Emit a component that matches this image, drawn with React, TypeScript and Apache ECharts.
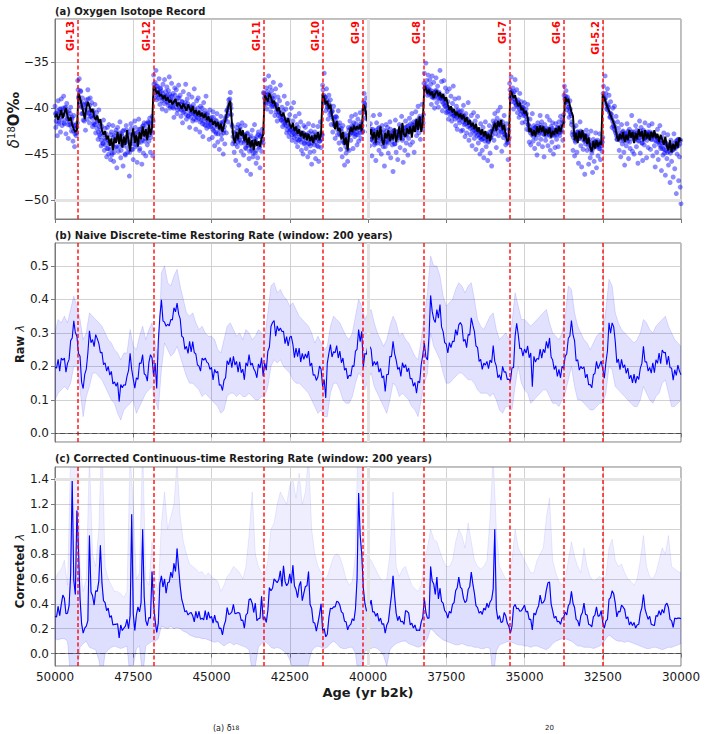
import React, { useEffect, useRef } from "react";
import * as echarts from "echarts";

const START_AGE = 50000;
const LINE_STEP = 50;
const BAND_STEP = 100;
const SCATTER_STEP = 25;
const SCATTER_B_START = 49987.5;
const X_MIN = 30000;
const X_MAX = 50000;
const X_INTERVAL = 2500;

const GI_AGES = [49280, 46860, 43340, 41460, 40160, 38220, 35480, 33740, 32500];
const GI_LABELS = ["GI-13", "GI-12", "GI-11", "GI-10", "GI-9", "GI-8", "GI-7", "GI-6", "GI-5.2"];

// (a) d18O samples, every 25 yr from 50000 to 30000
const isoScatter = [
  -39.8, -42.1, -40.6, -43.0, -39.2, -41.5, -40.1, -42.6, -39.0, -41.9, -40.4, -38.7, -41.7, -40.0, -42.8, -39.5, -41.2, -43.3, -40.3, -41.8, -39.9, -42.5, -41.0, -43.6, -40.8, -44.2, -41.9, -43.0, -42.1, -37.0, -38.9, -36.8, -39.7, -38.2, -40.6, -38.9, -41.3, -39.6, -40.2, -42.4,
  -39.1, -41.2, -38.0, -40.5, -41.6, -38.9, -40.9, -39.4, -42.0, -40.3, -41.8, -39.6, -42.7, -40.5, -41.3, -43.4, -40.2, -42.9, -41.7, -44.1, -42.0, -43.8, -41.3, -44.6, -42.2, -43.5, -45.3, -42.1, -44.4, -41.8, -43.9, -45.6, -42.6, -44.9, -41.9, -45.8, -43.0, -44.3, -42.4, -46.5,
  -42.1, -44.7, -43.2, -41.5, -45.4, -42.8, -44.0, -46.3, -42.4, -43.8, -45.1, -41.9, -43.5, -44.8, -42.6, -47.4, -43.9, -41.7, -44.5, -42.9, -45.6, -43.1, -41.4, -44.2, -42.7, -45.9, -43.4, -41.2, -44.6, -42.3, -43.7, -46.1, -42.0, -44.9, -41.6, -43.3, -45.2, -42.8, -44.0, -41.5,
  -43.6, -41.1, -44.8, -42.5, -40.9, -45.2, -36.4, -38.9, -37.2, -35.9, -39.1, -37.6, -38.5, -36.8, -39.6, -37.9, -38.2, -40.1, -37.4, -39.0, -36.9, -38.7, -40.3, -37.7, -39.4, -38.1, -36.6, -40.0, -38.8, -37.3, -39.9, -38.4, -41.0, -37.8, -39.5, -38.0, -40.6, -38.9, -37.5, -39.8,
  -38.6, -40.9, -39.3, -41.6, -38.2, -40.4, -39.7, -37.4, -41.2, -39.0, -40.8, -38.5, -42.1, -39.9, -40.6, -38.8, -41.4, -39.6, -37.9, -40.7, -42.3, -39.2, -41.0, -38.9, -40.5, -42.6, -39.8, -41.3, -40.0, -43.1, -39.4, -41.8, -40.3, -38.7, -42.2, -40.6, -41.5, -43.4, -40.2, -42.0,
  -41.0, -43.2, -40.4, -42.5, -44.1, -41.3, -42.8, -40.6, -43.7, -41.9, -44.5, -42.2, -40.9, -43.4, -41.6, -45.0, -42.4, -43.9, -41.1, -42.7, -40.2, -41.5, -39.1, -40.6, -38.3, -40.0, -41.8, -43.9, -42.6, -44.8, -43.3, -45.7, -42.1, -44.2, -41.8, -46.2, -43.5, -42.0, -44.7, -41.6,
  -42.8, -45.1, -43.6, -41.9, -44.4, -46.8, -42.7, -44.0, -45.5, -43.2, -47.2, -44.6, -42.4, -45.3, -43.7, -41.8, -44.9, -46.0, -43.1, -45.4, -42.6, -44.3, -46.5, -43.0, -44.7, -42.3, -43.8, -38.4, -36.9, -39.6, -37.8, -40.1, -38.5, -36.5, -39.3, -37.7, -40.4, -38.1, -39.8, -37.2,
  -38.6, -40.8, -37.9, -39.6, -41.4, -38.8, -40.5, -39.2, -37.5, -41.3, -39.9, -42.0, -40.3, -38.7, -41.6, -40.1, -42.7, -39.5, -41.2, -43.1, -40.7, -42.4, -40.0, -43.5, -41.4, -39.4, -42.8, -40.9, -43.7, -41.8, -44.2, -42.1, -40.6, -43.4, -41.5, -44.6, -42.7, -45.0, -41.9, -43.8,
  -42.1, -44.4, -43.0, -45.3, -41.7, -43.9, -44.8, -42.5, -46.1, -43.4, -41.9, -44.7, -42.6, -45.5, -43.2, -44.1, -42.0, -45.8, -43.6, -41.5, -44.3, -42.9, -37.5, -39.4, -36.2, -38.8, -40.3, -37.9, -39.9, -41.2, -38.6, -40.7, -39.1, -41.8, -40.4, -42.6, -39.8, -41.9, -43.3, -40.9,
  -41.0, -42.9, -40.3, -43.8, -41.6, -44.5, -42.2, -45.3, -41.9, -43.7, -46.2, -42.8, -44.9, -43.3, -45.8, -42.1, -44.6, -41.4, -43.5, -40.9, -42.7, -44.4, -41.6, -43.1, -40.7, -42.9, -44.0, -41.2, -43.6, -42.0, -40.5, -43.3, -41.5, -42.6, -40.2, -38.4, -39.5, -41.1, -38.9, -40.6,
  -40.9, -42.6, -44.1, -41.7, -43.4, -45.2, -42.3, -40.8, -44.0, -42.9, -45.7, -41.6, -43.8, -42.2, -44.6, -40.7, -43.1, -45.0, -41.9, -43.6, -42.4, -46.3, -44.2, -41.8, -43.7, -42.1, -44.9, -43.3, -41.5, -45.4, -42.7, -44.0, -46.9, -42.5, -43.9, -41.3, -44.8, -42.6, -45.6, -43.0,
  -41.8, -44.3, -42.7, -40.9, -43.5, -45.9, -42.2, -44.6, -41.4, -43.8, -42.0, -45.1, -43.3, -41.1, -44.0, -42.5, -40.6, -43.7, -41.9, -44.8, -42.3, -40.4, -43.0, -41.6, -39.8, -42.7, -40.9, -43.4, -41.2, -39.6, -42.3, -40.7, -36.2, -37.8, -35.1, -37.0, -38.6, -36.4, -38.1, -36.9,
  -37.4, -39.6, -36.5, -38.8, -37.2, -40.0, -38.1, -36.7, -39.4, -37.6, -39.9, -38.3, -35.9, -38.9, -37.1, -40.3, -38.6, -37.0, -39.7, -37.8, -40.5, -38.2, -39.3, -41.2, -37.9, -40.1, -38.7, -41.4, -39.5, -37.6, -40.8, -39.0, -41.9, -39.8, -42.3, -40.2, -38.9, -41.6, -40.4, -42.5,
  -40.3, -42.4, -39.7, -41.8, -43.1, -40.6, -42.7, -41.2, -39.4, -43.5, -41.6, -42.9, -40.8, -44.1, -42.0, -40.5, -43.3, -41.4, -44.5, -42.3, -40.9, -43.8, -42.6, -45.0, -41.7, -43.4, -44.6, -42.1, -45.4, -43.0, -41.5, -44.2, -42.8, -45.7, -43.6, -41.9, -44.9, -43.2, -46.3, -42.5,
  -41.4, -43.5, -40.6, -42.8, -44.3, -41.1, -40.3, -43.0, -41.8, -39.9, -42.6, -44.7, -41.5, -43.2, -40.8, -42.9, -44.0, -41.7, -43.8, -45.6, -42.4, -37.3, -38.9, -36.6, -39.3, -37.8, -40.1, -38.2, -36.9, -39.6, -38.0, -40.5, -39.1, -41.0, -38.4, -40.7, -39.3, -41.6, -39.9, -40.8,
  -39.4, -41.5, -40.1, -42.3, -39.6, -41.8, -43.7, -41.2, -44.0, -42.5, -40.6, -43.6, -41.9, -44.4, -42.1, -43.3, -45.1, -41.6, -43.9, -42.7, -40.8, -43.4, -41.5, -44.2, -42.2, -45.3, -41.8, -43.5, -42.4, -40.9, -44.1, -42.8, -41.3, -44.6, -42.0, -43.7, -41.6, -45.0, -42.9, -44.3,
  -41.7, -43.4, -42.1, -44.2, -41.5, -43.0, -40.9, -42.6, -41.3, -43.5, -40.7, -37.6, -39.4, -38.1, -40.2, -38.8, -39.9, -41.0, -39.2, -40.6, -41.8, -42.9, -44.6, -42.1, -45.2, -43.7, -41.9, -44.8, -42.6, -46.0, -43.3, -41.5, -44.1, -46.4, -42.8, -44.5, -43.0, -47.2, -43.9, -42.4,
  -44.6, -42.9, -46.1, -43.7, -45.4, -42.5, -44.9, -47.0, -43.4, -45.8, -44.1, -42.7, -46.5, -43.9, -45.2, -44.4, -42.8, -45.6, -43.6, -44.7, -43.2, -37.6, -39.0, -36.5, -38.4, -40.1, -37.9, -39.7, -38.6, -41.0, -39.3, -40.7, -42.1, -40.0, -41.6, -39.8, -42.5, -40.9, -43.4, -41.5,
  -42.2, -44.6, -43.1, -45.3, -41.8, -43.9, -42.5, -44.8, -46.2, -42.9, -44.1, -41.7, -43.6, -45.5, -42.3, -44.4, -43.0, -40.8, -44.7, -42.6, -45.0, -43.3, -41.9, -44.2, -42.7, -46.0, -43.5, -41.4, -44.9, -42.1, -43.8, -45.7, -42.4, -44.0, -41.6, -43.2, -45.4, -42.8, -44.3, -41.9,
  -42.6, -44.5, -43.4, -41.7, -45.2, -42.9, -44.1, -46.4, -43.0, -44.8, -42.3, -45.6, -43.7, -41.9, -44.4, -46.8, -43.2, -45.1, -42.7, -44.9, -47.3, -43.8, -45.5, -42.9, -46.2, -44.0, -48.1, -43.5, -45.8, -44.6, -47.5, -42.8, -46.6, -44.2, -49.3, -45.0, -43.4, -47.9, -45.3, -48.6, -50.4,
];

// (a) second set of d18O samples, every 25 yr from 49987.5
const isoScatterB = [
  -40.6, -41.4, -40.9, -40.3, -41.7, -40.5, -41.0, -40.1, -41.3, -40.8, -40.0, -41.6, -40.7, -39.9, -41.2, -40.4, -41.8, -40.9, -41.5, -40.6, -42.0, -41.2, -41.7, -42.5, -41.9, -42.8, -42.2, -42.7, -41.6, -38.0, -38.7, -39.3, -38.1, -39.9, -39.4, -40.6, -40.0, -41.4, -40.7, -39.6,
  -39.5, -40.2, -39.0, -40.6, -39.7, -40.9, -40.3, -41.1, -40.5, -41.6, -40.9, -41.8, -41.0, -42.2, -41.5, -42.6, -42.0, -43.1, -42.4, -43.5, -42.7, -43.9, -42.9, -43.3, -44.0, -42.8, -44.4, -43.5, -45.0, -43.7, -44.5, -42.9, -45.1, -44.0, -43.2, -44.8, -43.6, -42.7, -44.2, -43.4,
  -43.1, -44.2, -42.7, -43.8, -44.6, -43.0, -42.5, -44.1, -43.5, -45.0, -43.2, -42.4, -44.3, -43.7, -42.9, -44.8, -43.4, -42.2, -43.9, -44.5, -42.8, -43.6, -42.1, -44.0, -43.3, -42.6, -43.8, -42.3, -44.4, -43.0, -42.7, -43.5, -41.9, -42.8, -43.6, -42.2, -41.7, -43.1, -42.5, -41.6,
  -42.9, -41.6, -43.2, -42.0, -42.7, -41.4, -37.4, -37.9, -38.3, -37.6, -38.6, -38.0, -38.9, -38.3, -37.8, -38.8, -39.2, -38.4, -38.9, -39.5, -38.7, -38.2, -39.3, -38.6, -39.7, -39.0, -38.5, -39.8, -39.2, -38.7, -39.5, -40.0, -39.1, -38.6, -39.9, -39.3, -40.2, -39.6, -38.9, -40.1,
  -39.6, -40.2, -39.3, -40.5, -39.8, -40.1, -39.4, -40.7, -40.0, -39.5, -40.9, -40.3, -39.8, -41.0, -40.4, -39.9, -40.6, -41.2, -40.1, -40.8, -41.3, -40.5, -40.0, -41.1, -40.7, -41.5, -40.4, -41.0, -41.7, -40.8, -41.4, -40.6, -41.9, -41.2, -40.7, -41.6, -42.0, -41.1, -41.8, -41.3,
  -41.6, -42.3, -41.0, -42.1, -41.7, -42.6, -41.4, -42.0, -42.8, -41.8, -42.4, -41.6, -42.9, -42.2, -41.5, -42.7, -42.0, -41.3, -40.9, -40.3, -40.8, -39.9, -39.5, -39.0, -39.6, -40.7, -42.0, -43.1, -43.6, -42.8, -43.9, -43.3, -42.5, -43.7, -42.9, -43.4, -42.3, -43.8, -42.7, -43.1,
  -42.9, -43.8, -43.2, -44.3, -43.5, -42.8, -44.1, -43.6, -44.7, -43.9, -43.0, -44.4, -43.7, -44.9, -43.3, -44.0, -43.4, -44.6, -43.8, -42.9, -43.9, -44.2, -43.1, -43.7, -42.8, -43.4, -38.3, -38.9, -39.4, -38.6, -39.1, -38.2, -38.8, -39.5, -38.5, -39.2, -39.8, -38.9, -39.6, -39.0,
  -39.5, -39.9, -40.4, -39.7, -40.2, -40.8, -40.4, -41.0, -40.6, -41.3, -40.9, -41.5, -41.1, -41.8, -41.3, -41.9, -42.3, -41.6, -42.1, -42.6, -41.9, -42.4, -42.9, -42.2, -42.7, -43.2, -42.5, -43.0, -42.3, -43.4, -42.8, -43.5, -42.6, -43.1, -43.7, -42.9, -43.4, -42.7, -43.9, -43.2,
  -42.9, -43.6, -43.0, -43.9, -42.7, -43.4, -44.1, -43.2, -43.8, -42.8, -43.5, -44.0, -43.1, -43.7, -42.9, -43.3, -44.2, -43.0, -43.6, -42.7, -43.4, -42.9, -38.0, -38.6, -39.2, -38.8, -39.5, -39.1, -39.9, -39.4, -40.2, -39.7, -40.5, -40.9, -40.3, -41.2, -41.7, -41.0, -42.0, -41.5,
  -41.8, -42.4, -41.9, -42.8, -42.3, -43.0, -42.6, -43.5, -42.9, -43.8, -43.3, -44.2, -43.6, -44.5, -43.0, -42.4, -42.9, -42.2, -42.7, -41.9, -42.5, -42.0, -42.8, -42.3, -41.7, -42.6, -42.1, -42.9, -42.4, -41.8, -42.7, -42.2, -41.9, -42.5, -39.3, -39.9, -40.4, -39.7, -40.6, -41.2,
  -41.9, -42.6, -43.1, -42.3, -43.4, -42.7, -43.6, -42.5, -43.0, -43.8, -42.4, -43.2, -42.8, -43.5, -42.1, -43.3, -43.9, -42.6, -43.1, -44.2, -43.4, -42.9, -43.7, -42.5, -43.2, -43.8, -42.7, -43.4, -42.3, -43.0, -43.6, -42.8, -43.3, -42.4, -43.9, -43.1, -42.6, -43.5, -42.9, -43.2,
  -42.4, -43.1, -42.0, -42.7, -43.3, -42.5, -42.9, -42.1, -43.0, -42.4, -42.8, -41.9, -42.6, -42.2, -41.7, -42.5, -41.8, -42.3, -41.5, -42.1, -41.6, -42.4, -41.3, -42.0, -41.7, -41.2, -42.1, -41.4, -41.8, -41.1, -41.6, -37.3, -37.8, -37.5, -38.1, -37.7, -38.3, -37.9, -38.5, -38.0,
  -38.4, -38.8, -38.2, -38.6, -38.9, -38.3, -38.7, -38.1, -38.5, -38.9, -38.4, -39.0, -38.6, -38.9, -39.3, -38.8, -39.5, -39.1, -39.8, -39.4, -40.0, -40.4, -39.9, -40.3, -40.7, -40.1, -40.6, -40.2, -40.9, -40.5, -40.8, -41.2, -40.6, -41.0, -40.4, -40.9, -41.3, -40.7, -41.1, -40.8,
  -41.0, -41.5, -40.8, -41.3, -41.7, -41.1, -41.6, -42.0, -41.4, -41.9, -42.2, -41.6, -42.1, -42.5, -41.9, -42.4, -42.8, -42.2, -42.6, -43.0, -42.4, -42.9, -43.2, -42.6, -43.1, -43.4, -42.8, -43.3, -42.7, -43.6, -43.0, -43.4, -42.9, -43.7, -43.1, -42.6, -43.2, -42.5, -42.9, -42.3,
  -42.0, -41.7, -42.3, -41.5, -42.1, -41.8, -42.5, -41.6, -42.2, -41.4, -42.0, -42.6, -41.9, -42.4, -42.8, -42.2, -43.0, -43.5, -42.9, -43.7, -43.2, -38.0, -38.5, -38.2, -38.8, -38.4, -39.0, -39.4, -39.1, -39.7, -39.3, -39.9, -39.5, -40.1, -39.7, -40.3, -39.9, -40.4, -40.0, -40.6,
  -40.4, -40.9, -40.6, -41.2, -41.8, -42.4, -42.0, -42.7, -42.3, -42.9, -42.5, -43.1, -42.2, -42.8, -42.4, -42.0, -42.6, -42.2, -42.9, -42.4, -41.9, -42.5, -42.1, -42.8, -42.3, -42.9, -42.5, -43.0, -42.2, -42.7, -42.3, -42.9, -42.4, -43.1, -42.6, -42.2, -42.8, -42.4, -43.0, -42.5,
  -42.4, -42.9, -42.2, -42.7, -42.1, -42.6, -42.0, -42.4, -41.8, -41.5, -38.6, -39.0, -38.7, -39.3, -39.0, -39.5, -39.9, -40.4, -40.1, -40.8, -41.5, -42.6, -43.2, -42.8, -43.5, -42.9, -43.4, -42.6, -43.1, -42.7, -43.3, -42.5, -43.0, -42.6, -43.4, -42.9, -43.6, -43.0, -43.5, -43.1,
  -43.6, -44.1, -43.4, -44.0, -44.5, -44.1, -44.6, -43.8, -44.3, -43.7, -44.2, -43.6, -44.0, -43.5, -44.2, -43.8, -44.4, -43.9, -44.1, -43.7, -38.4, -38.8, -39.1, -38.9, -39.5, -39.8, -40.2, -39.9, -40.5, -40.9, -40.6, -41.1, -41.4, -41.9, -42.3, -42.0, -42.7, -43.0, -43.4, -43.1,
  -43.2, -42.7, -43.5, -42.9, -43.3, -42.6, -43.1, -43.6, -42.8, -43.4, -42.7, -43.2, -42.5, -43.0, -43.7, -42.9, -43.3, -42.6, -43.1, -42.8, -43.5, -42.9, -43.3, -42.4, -43.0, -43.6, -42.7, -43.2, -42.5, -43.1, -43.8, -42.9, -43.4, -42.6, -43.2, -42.8, -43.5, -42.6, -43.1, -42.8,
  -43.2, -42.8, -43.4, -42.7, -43.1, -42.9, -43.5, -43.0, -43.6, -43.2, -43.7, -43.3, -44.0, -43.5, -44.2, -43.8, -44.4, -43.7, -44.5, -44.0, -44.6, -43.9, -44.8, -44.2, -44.7, -44.1, -44.9, -44.3, -44.6, -44.0, -44.5, -43.8, -44.4, -43.6, -44.2, -43.5, -44.1, -43.4, -43.9, -43.5,
];

// (a) smoothed d18O, every 50 yr
const isoLine = [
  -41.0, -40.6, -41.3, -40.8, -40.2, -41.1, -40.5, -40.0, -40.9, -41.4, -41.0, -41.8, -42.3, -42.6, -42.4, -38.4, -38.9, -39.6, -40.4, -41.2,
  -40.0, -39.3, -39.8, -40.4, -40.1, -40.9, -41.3, -40.8, -41.6, -41.2, -42.4, -42.9, -42.5, -43.4, -43.0, -44.1, -43.3, -44.6, -43.2, -43.8,
  -42.6, -43.9, -42.8, -44.3, -43.1, -44.0, -42.4, -43.6, -44.7, -43.0, -42.2, -43.8, -42.9, -44.2, -42.6, -43.4, -42.0, -43.1, -42.3, -43.5,
  -41.8, -42.9, -42.1, -37.6, -37.9, -38.4, -38.1, -38.7, -38.5, -39.0, -38.6, -39.2, -38.8, -39.4, -39.1, -39.6, -39.3, -39.0, -39.8, -39.4,
  -39.7, -40.1, -39.5, -39.9, -40.3, -39.6, -40.0, -40.4, -39.8, -40.6, -40.2, -40.8, -40.3, -40.9, -40.5, -41.1, -40.6, -41.3, -40.9, -41.5,
  -41.2, -41.8, -41.4, -42.0, -41.5, -42.3, -41.7, -42.6, -41.9, -41.2, -40.4, -39.6, -39.2, -41.5, -43.2, -43.8, -42.6, -43.4, -42.2, -43.0,
  -42.4, -43.6, -42.8, -44.0, -43.2, -44.3, -43.5, -44.6, -43.4, -44.1, -43.6, -44.2, -43.3, -42.9, -38.6, -38.9, -39.3, -38.4, -38.8, -39.5,
  -39.2, -39.8, -40.3, -39.9, -40.6, -40.9, -40.5, -41.2, -41.6, -41.1, -41.8, -42.2, -41.6, -42.5, -42.0, -42.8, -42.3, -43.1, -42.5, -43.3,
  -42.7, -43.5, -42.8, -43.6, -43.0, -43.8, -42.9, -43.4, -42.6, -43.5, -42.8, -38.4, -38.9, -39.6, -39.2, -40.1, -39.6, -40.8, -41.5, -42.3,
  -41.4, -42.5, -42.2, -43.4, -42.6, -44.0, -43.2, -44.6, -42.8, -42.1, -42.6, -41.9, -42.4, -42.0, -42.3, -41.8, -42.5, -39.6, -39.9, -40.8,
  -41.6, -42.9, -42.3, -43.4, -42.6, -43.8, -42.4, -43.2, -42.0, -43.5, -44.0, -42.7, -43.3, -42.4, -43.6, -42.8, -43.4, -42.2, -43.7, -42.9,
  -42.0, -43.5, -41.6, -42.9, -43.1, -42.2, -42.8, -42.0, -43.2, -41.9, -42.6, -41.2, -42.4, -40.9, -42.6, -41.5, -37.6, -37.9, -38.4, -38.0,
  -38.6, -38.2, -38.9, -38.4, -38.1, -38.7, -38.3, -38.9, -38.5, -39.2, -38.8, -39.6, -40.2, -39.8, -40.5, -40.1, -40.8, -40.4, -41.0, -40.6,
  -41.2, -40.7, -41.5, -41.0, -41.8, -41.3, -42.0, -41.6, -42.3, -41.7, -42.6, -42.1, -42.9, -42.3, -43.1, -42.5, -43.4, -42.8, -43.6, -42.7,
  -42.2, -41.6, -42.5, -41.4, -42.0, -41.3, -42.4, -41.8, -42.9, -43.6, -43.4, -38.1, -38.4, -38.9, -38.6, -39.3, -39.8, -39.4, -40.2, -40.0,
  -40.6, -40.3, -41.0, -42.6, -42.2, -43.0, -42.4, -43.1, -42.0, -42.7, -41.9, -42.6, -42.0, -43.0, -42.3, -42.8, -42.1, -43.2, -42.5, -42.9,
  -42.2, -42.8, -42.0, -42.6, -41.9, -41.7, -38.8, -39.3, -39.0, -39.7, -40.4, -40.9, -43.5, -42.7, -43.8, -42.5, -43.3, -42.4, -43.6, -42.8,
  -43.9, -43.2, -44.3, -44.7, -43.6, -44.4, -43.5, -44.2, -43.7, -44.0, -38.5, -38.9, -39.4, -39.9, -40.3, -40.8, -41.2, -41.6, -42.1, -43.0,
  -43.6, -42.8, -43.4, -42.6, -43.7, -42.9, -43.5, -42.4, -43.2, -42.6, -43.8, -42.7, -43.4, -42.3, -43.1, -42.5, -43.6, -42.4, -43.3, -42.7,
  -43.5, -42.6, -43.2, -42.4, -43.3, -42.8, -43.7, -42.9, -43.4, -44.0, -43.1, -44.2, -44.6, -43.5, -44.8, -43.9, -44.5, -43.6, -44.3, -43.2, -43.6,
];

// (b) raw lambda, every 50 yr
const rawLine = [
  0.197, 0.195, 0.221, 0.186, 0.225, 0.219, 0.225, 0.183, 0.209, 0.221, 0.277, 0.285, 0.336, 0.301, 0.290, 0.239, 0.230, 0.153, 0.134, 0.176,
  0.192, 0.240, 0.306, 0.271, 0.280, 0.259, 0.295, 0.283, 0.269, 0.241, 0.242, 0.205, 0.211, 0.186, 0.200, 0.174, 0.185, 0.148, 0.154, 0.141,
  0.152, 0.095, 0.146, 0.136, 0.145, 0.144, 0.170, 0.188, 0.239, 0.191, 0.162, 0.135, 0.166, 0.161, 0.210, 0.209, 0.235, 0.178, 0.174, 0.156,
  0.212, 0.235, 0.226, 0.171, 0.210, 0.134, 0.275, 0.348, 0.399, 0.336, 0.332, 0.320, 0.326, 0.321, 0.340, 0.339, 0.375, 0.363, 0.389, 0.356,
  0.342, 0.290, 0.286, 0.251, 0.260, 0.239, 0.275, 0.243, 0.274, 0.241, 0.237, 0.205, 0.201, 0.186, 0.225, 0.219, 0.225, 0.213, 0.209, 0.191,
  0.197, 0.160, 0.191, 0.181, 0.185, 0.144, 0.145, 0.128, 0.159, 0.166, 0.217, 0.205, 0.226, 0.196, 0.230, 0.204, 0.215, 0.183, 0.214, 0.181,
  0.192, 0.160, 0.211, 0.201, 0.235, 0.204, 0.210, 0.193, 0.184, 0.166, 0.207, 0.195, 0.226, 0.171, 0.210, 0.189, 0.245, 0.258, 0.319, 0.331,
  0.337, 0.290, 0.321, 0.306, 0.315, 0.304, 0.305, 0.268, 0.289, 0.261, 0.287, 0.290, 0.266, 0.226, 0.255, 0.229, 0.255, 0.213, 0.239, 0.221,
  0.237, 0.225, 0.246, 0.201, 0.210, 0.174, 0.175, 0.158, 0.169, 0.201, 0.192, 0.140, 0.161, 0.106, 0.210, 0.239, 0.265, 0.228, 0.244, 0.241,
  0.262, 0.225, 0.246, 0.211, 0.225, 0.189, 0.195, 0.163, 0.174, 0.171, 0.202, 0.200, 0.246, 0.251, 0.310, 0.274, 0.305, 0.198, 0.239, 0.236,
  0.267, 0.260, 0.251, 0.201, 0.215, 0.204, 0.215, 0.183, 0.194, 0.166, 0.172, 0.125, 0.176, 0.176, 0.230, 0.229, 0.275, 0.238, 0.219, 0.191,
  0.197, 0.170, 0.211, 0.196, 0.205, 0.184, 0.195, 0.163, 0.164, 0.141, 0.152, 0.120, 0.156, 0.151, 0.205, 0.234, 0.270, 0.228, 0.219, 0.291,
  0.412, 0.365, 0.341, 0.331, 0.370, 0.344, 0.385, 0.318, 0.304, 0.271, 0.267, 0.240, 0.271, 0.256, 0.275, 0.274, 0.310, 0.293, 0.324, 0.331,
  0.322, 0.275, 0.281, 0.256, 0.295, 0.294, 0.345, 0.323, 0.304, 0.261, 0.257, 0.215, 0.221, 0.191, 0.210, 0.204, 0.215, 0.193, 0.219, 0.211,
  0.262, 0.215, 0.201, 0.166, 0.175, 0.159, 0.200, 0.183, 0.184, 0.161, 0.162, 0.155, 0.196, 0.196, 0.290, 0.329, 0.295, 0.253, 0.254, 0.231,
  0.252, 0.240, 0.261, 0.226, 0.240, 0.139, 0.230, 0.213, 0.224, 0.221, 0.252, 0.225, 0.251, 0.241, 0.275, 0.254, 0.285, 0.228, 0.219, 0.191,
  0.202, 0.170, 0.191, 0.166, 0.200, 0.194, 0.230, 0.238, 0.284, 0.291, 0.337, 0.295, 0.276, 0.216, 0.220, 0.189, 0.200, 0.193, 0.199, 0.166,
  0.177, 0.145, 0.146, 0.136, 0.175, 0.179, 0.215, 0.193, 0.204, 0.216, 0.192, 0.165, 0.211, 0.246, 0.330, 0.299, 0.330, 0.318, 0.274, 0.211,
  0.222, 0.190, 0.221, 0.196, 0.205, 0.179, 0.195, 0.163, 0.174, 0.151, 0.177, 0.150, 0.171, 0.161, 0.195, 0.209, 0.260, 0.213, 0.214, 0.186,
  0.197, 0.180, 0.211, 0.181, 0.220, 0.209, 0.240, 0.208, 0.249, 0.241, 0.242, 0.205, 0.231, 0.196, 0.195, 0.159, 0.190, 0.173, 0.204, 0.186, 0.175,
];

// (b) band edges, every 100 yr
const rawUpper = [
  0.30, 0.34, 0.33, 0.35, 0.33, 0.37, 0.41, 0.38, 0.34, 0.28,
  0.30, 0.36, 0.35, 0.34, 0.33, 0.32, 0.30, 0.28, 0.27, 0.25,
  0.24, 0.22, 0.24, 0.24, 0.31, 0.26, 0.25, 0.29, 0.32, 0.28,
  0.31, 0.33, 0.27, 0.22, 0.48, 0.50, 0.45, 0.44, 0.47, 0.49,
  0.44, 0.40, 0.36, 0.35, 0.36, 0.33, 0.31, 0.32, 0.30, 0.29,
  0.29, 0.28, 0.25, 0.24, 0.28, 0.32, 0.33, 0.31, 0.29, 0.30,
  0.28, 0.31, 0.30, 0.28, 0.29, 0.31, 0.30, 0.29, 0.36, 0.44,
  0.45, 0.42, 0.43, 0.41, 0.40, 0.38, 0.39, 0.37, 0.35, 0.34,
  0.33, 0.32, 0.30, 0.27, 0.29, 0.27, 0.25, 0.26, 0.32, 0.35,
  0.34, 0.33, 0.31, 0.29, 0.28, 0.30, 0.35, 0.40, 0.38, 0.34,
  0.36, 0.37, 0.33, 0.30, 0.28, 0.26, 0.28, 0.32, 0.35, 0.33,
  0.29, 0.30, 0.28, 0.27, 0.25, 0.23, 0.22, 0.28, 0.35, 0.42,
  0.53, 0.50, 0.50, 0.47, 0.41, 0.38, 0.39, 0.40, 0.43, 0.45,
  0.44, 0.42, 0.44, 0.45, 0.40, 0.34, 0.32, 0.31, 0.33, 0.35,
  0.36, 0.31, 0.28, 0.29, 0.30, 0.28, 0.33, 0.42, 0.38, 0.34,
  0.34, 0.33, 0.32, 0.33, 0.34, 0.35, 0.36, 0.37, 0.33, 0.30,
  0.29, 0.28, 0.30, 0.35, 0.44, 0.43, 0.36, 0.32, 0.30, 0.28,
  0.27, 0.25, 0.27, 0.29, 0.30, 0.30, 0.37, 0.46, 0.44, 0.36,
  0.33, 0.31, 0.30, 0.29, 0.28, 0.27, 0.28, 0.30, 0.34, 0.33,
  0.31, 0.30, 0.32, 0.33, 0.34, 0.35, 0.32, 0.30, 0.28, 0.27, 0.26,
];
const rawLower = [
  0.10, 0.12, 0.13, 0.14, 0.13, 0.15, 0.20, 0.20, 0.13, 0.05,
  0.11, 0.14, 0.18, 0.18, 0.17, 0.16, 0.14, 0.12, 0.10, 0.09,
  0.06, 0.04, 0.07, 0.08, 0.09, 0.10, 0.06, 0.08, 0.10, 0.12,
  0.13, 0.14, 0.10, 0.07, 0.19, 0.27, 0.25, 0.23, 0.24, 0.26,
  0.23, 0.20, 0.17, 0.15, 0.15, 0.14, 0.13, 0.11, 0.12, 0.11,
  0.10, 0.09, 0.08, 0.06, 0.07, 0.11, 0.12, 0.12, 0.11, 0.12,
  0.11, 0.11, 0.12, 0.11, 0.10, 0.10, 0.11, 0.11, 0.14, 0.20,
  0.22, 0.21, 0.22, 0.20, 0.19, 0.18, 0.16, 0.15, 0.15, 0.14,
  0.13, 0.12, 0.10, 0.08, 0.06, 0.07, 0.05, 0.05, 0.12, 0.15,
  0.15, 0.13, 0.10, 0.09, 0.09, 0.11, 0.15, 0.18, 0.17, 0.13,
  0.16, 0.18, 0.14, 0.12, 0.10, 0.08, 0.06, 0.10, 0.15, 0.14,
  0.11, 0.12, 0.11, 0.10, 0.08, 0.07, 0.05, 0.10, 0.15, 0.18,
  0.30, 0.26, 0.24, 0.22, 0.18, 0.15, 0.15, 0.16, 0.17, 0.18,
  0.18, 0.17, 0.16, 0.16, 0.15, 0.13, 0.12, 0.12, 0.12, 0.11,
  0.12, 0.10, 0.07, 0.06, 0.08, 0.08, 0.07, 0.14, 0.20, 0.15,
  0.13, 0.12, 0.09, 0.10, 0.11, 0.12, 0.13, 0.13, 0.11, 0.09,
  0.09, 0.08, 0.10, 0.12, 0.16, 0.20, 0.14, 0.10, 0.10, 0.09,
  0.08, 0.07, 0.07, 0.08, 0.09, 0.09, 0.12, 0.20, 0.19, 0.14,
  0.13, 0.12, 0.11, 0.10, 0.09, 0.08, 0.08, 0.10, 0.14, 0.12,
  0.10, 0.09, 0.11, 0.12, 0.15, 0.16, 0.12, 0.08, 0.08, 0.09, 0.10,
];

// (c) corrected lambda, every 50 yr
const corLine = [
  0.300, 0.295, 0.380, 0.305, 0.395, 0.470, 0.445, 0.320, 0.325, 0.385, 0.640, 1.400, 0.590, 0.475, 1.150, 0.840, 0.445, 0.240, 0.165, 0.205,
  0.220, 0.265, 0.950, 0.495, 0.465, 0.390, 0.505, 0.500, 0.585, 0.870, 0.570, 0.425, 0.410, 0.345, 0.365, 0.290, 0.305, 0.230, 0.235, 0.235,
  0.240, 0.125, 0.230, 0.185, 0.205, 0.220, 0.275, 0.200, 0.305, 1.120, 0.320, 0.185, 0.310, 0.375, 0.335, 0.410, 1.000, 0.460, 0.265, 0.225,
  0.290, 0.285, 0.660, 0.395, 0.265, 0.170, 0.245, 0.560, 0.625, 0.535, 0.600, 0.485, 0.570, 0.575, 0.655, 0.610, 0.725, 0.660, 0.845, 0.685,
  0.540, 0.435, 0.390, 0.335, 0.345, 0.310, 0.325, 0.330, 0.305, 0.255, 0.340, 0.285, 0.340, 0.275, 0.285, 0.270, 0.345, 0.270, 0.335, 0.285,
  0.300, 0.245, 0.310, 0.255, 0.255, 0.200, 0.205, 0.150, 0.225, 0.265, 0.370, 0.315, 0.320, 0.335, 0.395, 0.320, 0.325, 0.330, 0.325, 0.265,
  0.270, 0.205, 0.310, 0.325, 0.435, 0.440, 0.405, 0.330, 0.405, 0.265, 0.280, 0.285, 0.460, 0.275, 0.295, 0.250, 0.345, 0.530, 0.505, 0.525,
  0.600, 0.585, 0.570, 0.595, 0.665, 0.540, 0.705, 0.580, 0.545, 0.565, 0.640, 0.565, 0.710, 0.545, 0.515, 0.450, 0.545, 0.580, 0.425, 0.485,
  0.540, 0.545, 0.660, 0.395, 0.365, 0.250, 0.245, 0.180, 0.245, 0.315, 0.400, 0.185, 0.200, 0.135, 0.155, 0.290, 0.365, 0.360, 0.375, 0.375,
  0.420, 0.415, 0.390, 0.335, 0.325, 0.260, 0.255, 0.190, 0.225, 0.235, 0.280, 0.265, 0.360, 0.600, 1.290, 0.950, 0.800, 0.530, 0.405, 0.345,
  0.340, 0.385, 0.430, 0.335, 0.335, 0.300, 0.325, 0.260, 0.285, 0.235, 0.240, 0.165, 0.230, 0.255, 0.365, 0.470, 0.625, 0.460, 0.325, 0.265,
  0.300, 0.255, 0.260, 0.235, 0.345, 0.340, 0.325, 0.230, 0.245, 0.205, 0.230, 0.185, 0.190, 0.185, 0.255, 0.290, 0.445, 0.330, 0.285, 0.285,
  0.700, 0.585, 0.560, 0.475, 0.615, 0.440, 0.525, 0.420, 0.405, 0.345, 0.330, 0.285, 0.340, 0.325, 0.395, 0.410, 0.505, 0.530, 0.615, 0.535,
  0.520, 0.445, 0.410, 0.425, 0.515, 0.540, 0.655, 0.560, 0.485, 0.385, 0.370, 0.325, 0.340, 0.315, 0.365, 0.350, 0.405, 0.370, 0.415, 0.435,
  0.520, 1.000, 0.360, 0.275, 0.305, 0.250, 0.255, 0.330, 0.305, 0.245, 0.220, 0.165, 0.220, 0.375, 0.395, 0.360, 0.365, 0.340, 0.345, 0.365,
  0.390, 0.335, 0.340, 0.275, 0.275, 0.190, 0.325, 0.310, 0.355, 0.385, 0.470, 0.405, 0.410, 0.435, 0.515, 0.570, 0.575, 0.400, 0.345, 0.285,
  0.300, 0.255, 0.260, 0.235, 0.285, 0.290, 0.335, 0.310, 0.385, 0.405, 0.500, 0.405, 0.370, 0.275, 0.265, 0.220, 0.305, 0.330, 0.405, 0.315,
  0.310, 0.235, 0.230, 0.215, 0.295, 0.310, 0.375, 0.300, 0.305, 0.345, 0.250, 0.205, 0.260, 0.275, 0.435, 0.450, 0.505, 0.480, 0.405, 0.295,
  0.340, 0.335, 0.390, 0.375, 0.355, 0.280, 0.295, 0.230, 0.255, 0.225, 0.250, 0.205, 0.230, 0.235, 0.325, 0.370, 0.475, 0.360, 0.315, 0.275,
  0.300, 0.235, 0.230, 0.225, 0.305, 0.300, 0.345, 0.310, 0.355, 0.325, 0.390, 0.405, 0.370, 0.275, 0.265, 0.210, 0.285, 0.280, 0.285, 0.285, 0.280,
];

// (c) band edges, every 100 yr
const corUpper = [
  0.60, 0.65, 0.68, 0.75, 0.55, 1.60, 2.00, 2.20, 0.70, 0.50,
  0.60, 1.60, 0.80, 0.70, 1.00, 1.80, 0.70, 0.60, 0.55, 0.50,
  0.50, 0.48, 0.45, 0.50, 1.60, 1.20, 0.60, 0.65, 1.70, 0.60,
  0.55, 0.90, 0.60, 0.50, 1.05, 1.30, 1.00, 1.10, 1.20, 1.55,
  1.10, 0.90, 0.80, 0.72, 0.70, 0.68, 0.65, 0.66, 0.62, 0.65,
  0.62, 0.60, 0.58, 0.50, 0.55, 0.62, 0.65, 0.70, 0.68, 0.65,
  0.60, 0.70, 0.95, 1.30, 0.80, 0.70, 0.65, 0.62, 0.75, 1.00,
  1.05, 1.20, 1.30, 1.25, 1.20, 1.35, 1.40, 1.25, 1.45, 1.20,
  1.30, 1.60, 1.00, 0.80, 0.70, 0.65, 0.60, 0.62, 0.70, 0.78,
  0.80, 0.78, 0.70, 0.60, 0.55, 0.58, 0.80, 2.00, 1.60, 0.80,
  0.78, 0.75, 0.70, 0.65, 0.60, 0.58, 0.60, 0.80, 1.30, 0.70,
  0.62, 0.68, 0.70, 0.62, 0.55, 0.52, 0.50, 0.55, 0.75, 0.85,
  1.00, 0.92, 0.90, 0.82, 0.75, 0.70, 0.70, 0.75, 0.90, 1.00,
  0.95, 0.85, 1.05, 0.90, 0.75, 0.70, 0.68, 0.70, 0.75, 1.10,
  1.60, 1.00, 0.70, 0.65, 0.60, 0.58, 0.75, 1.00, 0.85, 0.80,
  0.75, 0.70, 0.65, 0.65, 0.75, 0.80, 0.85, 1.10, 1.25, 0.75,
  0.65, 0.58, 0.55, 0.60, 0.75, 0.90, 0.78, 0.70, 0.65, 0.85,
  0.70, 0.62, 0.58, 0.60, 0.62, 0.60, 0.62, 0.85, 0.92, 0.75,
  0.70, 0.72, 0.65, 0.60, 0.58, 0.55, 0.60, 0.75, 0.95, 0.70,
  0.62, 0.60, 0.65, 0.75, 0.85, 0.80, 0.95, 0.70, 0.68, 0.66, 0.65,
];
const corLower = [
  0.12, 0.11, 0.12, 0.12, 0.10, -0.20, -0.20, -0.20, 0.05, 0.08,
  0.10, 0.05, 0.04, 0.03, -0.05, -0.20, 0.00, 0.03, 0.05, 0.06,
  0.05, 0.04, 0.05, 0.06, -0.20, -0.10, 0.04, 0.06, -0.20, 0.06,
  0.08, 0.10, 0.10, 0.12, 0.22, 0.21, 0.20, 0.22, 0.20, 0.21,
  0.20, 0.18, 0.17, 0.15, 0.14, 0.13, 0.13, 0.12, 0.12, 0.11,
  0.10, 0.09, 0.10, 0.08, 0.06, 0.08, 0.09, 0.07, 0.08, 0.07,
  0.06, 0.05, 0.03, -0.15, -0.10, 0.05, 0.08, 0.10, 0.08, 0.05,
  0.04, 0.05, 0.04, 0.02, 0.00, -0.05, -0.12, -0.15, -0.15, -0.12,
  -0.15, -0.08, 0.02, 0.05, 0.06, 0.05, 0.04, 0.05, 0.08, 0.10,
  0.08, 0.05, 0.04, 0.04, 0.05, 0.05, 0.00, -0.20, -0.15, 0.02,
  0.03, 0.04, 0.05, 0.04, 0.02, -0.02, -0.10, 0.03, 0.06, 0.08,
  0.09, 0.10, 0.10, 0.08, 0.07, 0.06, 0.05, 0.06, 0.08, 0.12,
  0.20, 0.18, 0.15, 0.13, 0.11, 0.10, 0.09, 0.08, 0.07, 0.07,
  0.08, 0.07, 0.06, 0.06, 0.05, 0.05, 0.04, 0.04, 0.05, 0.04,
  -0.20, 0.02, 0.07, 0.08, 0.09, 0.10, 0.09, 0.08, 0.07, 0.07,
  0.06, 0.06, 0.05, 0.06, 0.06, 0.05, 0.04, 0.03, 0.05, 0.08,
  0.10, 0.11, 0.12, 0.12, 0.11, 0.10, 0.08, 0.06, 0.06, 0.05,
  0.05, 0.05, 0.04, 0.05, 0.06, 0.08, 0.12, 0.15, 0.13, 0.11,
  0.10, 0.10, 0.09, 0.10, 0.09, 0.08, 0.07, 0.06, 0.05, 0.04,
  0.04, 0.05, 0.05, 0.04, 0.03, 0.04, 0.05, 0.05, 0.06, 0.07, 0.08,
];

const FONT = "DejaVu Sans";
const TEXT = "#1a1a1a";
const SPINE = "#7a7a7a";
const GRID = "#c6c6c6";

const toPairs = (vals: number[], step: number, start = START_AGE) => vals.map((v, i) => [start - i * step, v]);

const giMarks = (withLabel: boolean) =>
  GI_AGES.map((a, k) => ({
    name: GI_LABELS[k],
    xAxis: a,
    lineStyle: { color: "rgba(255,0,0,0.9)", width: 1.5, type: [4, 2.5] },
    label: withLabel
      ? {
          show: true,
          formatter: "{b}",
          position: "insideEndTop",
          distance: 2,
          color: "#ff0000",
          fontSize: 10,
          fontWeight: "bold",
          fontFamily: FONT,
        }
      : { show: false },
  }));

const zeroMark = {
  yAxis: 0,
  lineStyle: { color: "rgba(60,60,60,0.75)", width: 1, type: [5, 3] },
  label: { show: false },
};

export default function App() {
  const ref = useRef<HTMLDivElement>(null);
  useEffect(() => {
    document.body.style.margin = "0";
    if (!ref.current) return;
    const chart = echarts.init(ref.current, undefined, { renderer: "svg" });

    const grids = [
      { left: 55, right: 24, top: 19, height: 200 },
      { left: 55, right: 24, top: 243, height: 199 },
      { left: 55, right: 24, top: 467, height: 199 },
    ].map((g) => ({ ...g, show: true, borderColor: SPINE, borderWidth: 1, backgroundColor: "transparent" }));

    const xAxes = [0, 1, 2].map((i) => ({
      type: "value",
      gridIndex: i,
      min: X_MIN,
      max: X_MAX,
      interval: X_INTERVAL,
      inverse: true,
      axisLine: { show: true, lineStyle: { color: SPINE } },
      axisTick: { show: true, length: 4, lineStyle: { color: SPINE } },
      axisLabel: {
        show: i === 2,
        color: TEXT,
        fontSize: 12,
        fontFamily: FONT,
        margin: 5,
        formatter: (v: number) => String(v),
      },
      splitLine: { show: true, lineStyle: { color: GRID, width: 0.8 } },
    }));

    const yDefs = [
      { min: -52.07, max: -30.3, split: 5, fmt: (v: number) => String(Math.round(v)).replace("-", "\u2212") },
      { min: -0.0257, max: 0.5685, split: 5, fmt: (v: number) => v.toFixed(1) },
      { min: -0.1, max: 1.5, split: 8, fmt: (v: number) => v.toFixed(1) },
    ];
    const yAxes = yDefs.map((d, i) => ({
      type: "value",
      gridIndex: i,
      min: d.min,
      max: d.max,
      splitNumber: d.split,
      axisLine: { show: true, lineStyle: { color: SPINE } },
      axisTick: { show: true, length: 4, lineStyle: { color: SPINE } },
      axisLabel: {
        color: TEXT,
        fontSize: 12,
        fontFamily: FONT,
        margin: 6,
        showMinLabel: false,
        showMaxLabel: false,
        formatter: d.fmt,
      },
      splitLine: { show: true, lineStyle: { color: GRID, width: 0.8 } },
    }));

    const lightLine = { color: "#e3e3e3", width: 3, type: "solid" };
    const lightSeries = (i: number, data: any[]) => ({
      type: "line",
      xAxisIndex: i,
      yAxisIndex: i,
      data: [],
      z: 1,
      silent: true,
      markLine: { silent: true, symbol: ["none", "none"], label: { show: false }, lineStyle: lightLine, data },
    });

    // filled region between a top curve and a bottom curve, through the axes' scales
    const bandPoly = (
      i: number,
      top: number[],
      topStep: number,
      bot: number[],
      botStep: number,
      fill: string,
      stroke: string,
      z: number
    ) => ({
      type: "custom",
      xAxisIndex: i,
      yAxisIndex: i,
      data: [[START_AGE, 0]],
      silent: true,
      clip: true,
      z,
      renderItem: (params: any, api: any) => {
        const pts: number[][] = [];
        for (let k = 0; k < top.length; k++) pts.push(api.coord([START_AGE - k * topStep, top[k]]));
        for (let k = bot.length - 1; k >= 0; k--) pts.push(api.coord([START_AGE - k * botStep, bot[k]]));
        const cs = params.coordSys;
        return {
          type: "polygon",
          shape: { points: pts },
          style: { fill, stroke, lineWidth: 1 },
          clipPath: { type: "rect", shape: { x: cs.x, y: cs.y, width: cs.width, height: cs.height } },
        };
      },
    });

    const mainLine = (i: number, vals: number[], color: string, width: number, marks: any[]) => ({
      type: "line",
      xAxisIndex: i,
      yAxisIndex: i,
      data: toPairs(vals, LINE_STEP),
      symbol: "none",
      silent: true,
      lineStyle: { color, width },
      z: 4,
      markLine: { silent: true, symbol: ["none", "none"], label: { show: false }, data: marks },
    });

    const scatter = (data: any[]) => ({
      type: "scatter",
      xAxisIndex: 0,
      yAxisIndex: 0,
      data,
      symbolSize: 5,
      silent: true,
      itemStyle: { color: "#0000ff", opacity: 0.45 },
      z: 3,
    });

    const option: any = {
      animation: false,
      grid: grids,
      xAxis: xAxes,
      yAxis: yAxes,
      series: [
        lightSeries(0, [{ yAxis: -50 }, { xAxis: 40000 }]),
        scatter(toPairs(isoScatter, SCATTER_STEP)),
        scatter(toPairs(isoScatterB, SCATTER_STEP, SCATTER_B_START)),
        mainLine(0, isoLine, "#000000", 1.9, giMarks(true)),
        lightSeries(1, [{ xAxis: 40000 }]),
        bandPoly(1, rawUpper, BAND_STEP, rawLower, BAND_STEP, "rgba(0,0,255,0.115)", "rgba(0,0,255,0.12)", 2),
        mainLine(1, rawLine, "#0000ff", 1.1, [...giMarks(false), zeroMark]),
        lightSeries(2, [{ xAxis: 40000 }, { yAxis: 1.4 }]),
        bandPoly(2, corUpper, BAND_STEP, corLine, LINE_STEP, "rgba(0,0,255,0.065)", "rgba(0,0,255,0.08)", 2),
        bandPoly(2, corLine, LINE_STEP, corLower, BAND_STEP, "rgba(0,0,255,0.13)", "rgba(0,0,255,0.13)", 2),
        mainLine(2, corLine, "#0000ff", 1.1, [...giMarks(false), zeroMark]),
      ],
      graphic: [
        { type: "text", x: 55, y: 11, style: { text: "(a) Oxygen Isotope Record", fontFamily: FONT, fontSize: 10, fontWeight: "bold", fill: TEXT, verticalAlign: "middle" } },
        { type: "text", x: 55, y: 235.5, style: { text: "(b) Naive Discrete-time Restoring Rate (window: 200 years)", fontFamily: FONT, fontSize: 10, fontWeight: "bold", fill: TEXT, verticalAlign: "middle" } },
        { type: "text", x: 55, y: 458.5, style: { text: "(c) Corrected Continuous-time Restoring Rate (window: 200 years)", fontFamily: FONT, fontSize: 10, fontWeight: "bold", fill: TEXT, verticalAlign: "middle" } },
        {
          type: "text",
          x: 14,
          y: 120,
          rotation: Math.PI / 2,
          style: {
            text: "{i|\u03b4}{s|18}{b|O\u2030}",
            align: "center",
            verticalAlign: "middle",
            fill: TEXT,
            rich: {
              i: { fontFamily: FONT, fontSize: 15, fontStyle: "italic", fill: TEXT },
              s: { fontFamily: FONT, fontSize: 10, verticalAlign: "top", fill: TEXT },
              b: { fontFamily: FONT, fontSize: 15, fontWeight: "bold", fill: TEXT },
            },
          },
        },
        {
          type: "text",
          x: 20,
          y: 344,
          rotation: Math.PI / 2,
          style: {
            text: "{b|Raw }{i|\u03bb}",
            align: "center",
            verticalAlign: "middle",
            fill: TEXT,
            rich: {
              b: { fontFamily: FONT, fontSize: 11.5, fontWeight: "bold", fill: TEXT },
              i: { fontFamily: FONT, fontSize: 11.5, fontStyle: "italic", fill: TEXT },
            },
          },
        },
        {
          type: "text",
          x: 20,
          y: 571,
          rotation: Math.PI / 2,
          style: {
            text: "{b|Corrected }{i|\u03bb}",
            align: "center",
            verticalAlign: "middle",
            fill: TEXT,
            rich: {
              b: { fontFamily: FONT, fontSize: 11.5, fontWeight: "bold", fill: TEXT },
              i: { fontFamily: FONT, fontSize: 11.5, fontStyle: "italic", fill: TEXT },
            },
          },
        },
        { type: "text", x: 368, y: 692, style: { text: "Age (yr b2k)", fontFamily: FONT, fontSize: 13, fontWeight: "bold", fill: TEXT, align: "center", verticalAlign: "middle" } },
        {
          type: "text",
          x: 213,
          y: 724,
          style: {
            text: "{n|(a) \u03b4}{s|18}",
            verticalAlign: "top",
            fill: TEXT,
            rich: { n: { fontFamily: FONT, fontSize: 8, fill: TEXT }, s: { fontFamily: FONT, fontSize: 6, verticalAlign: "top", fill: TEXT } },
          },
        },
        { type: "text", x: 545, y: 724, style: { text: "20", fontFamily: FONT, fontSize: 7, fill: TEXT, verticalAlign: "top" } },
      ],
    };

    chart.setOption(option);
    return () => chart.dispose();
  }, []);
  return <div ref={ref} style={{ width: 705, height: 734 }} />;
}
